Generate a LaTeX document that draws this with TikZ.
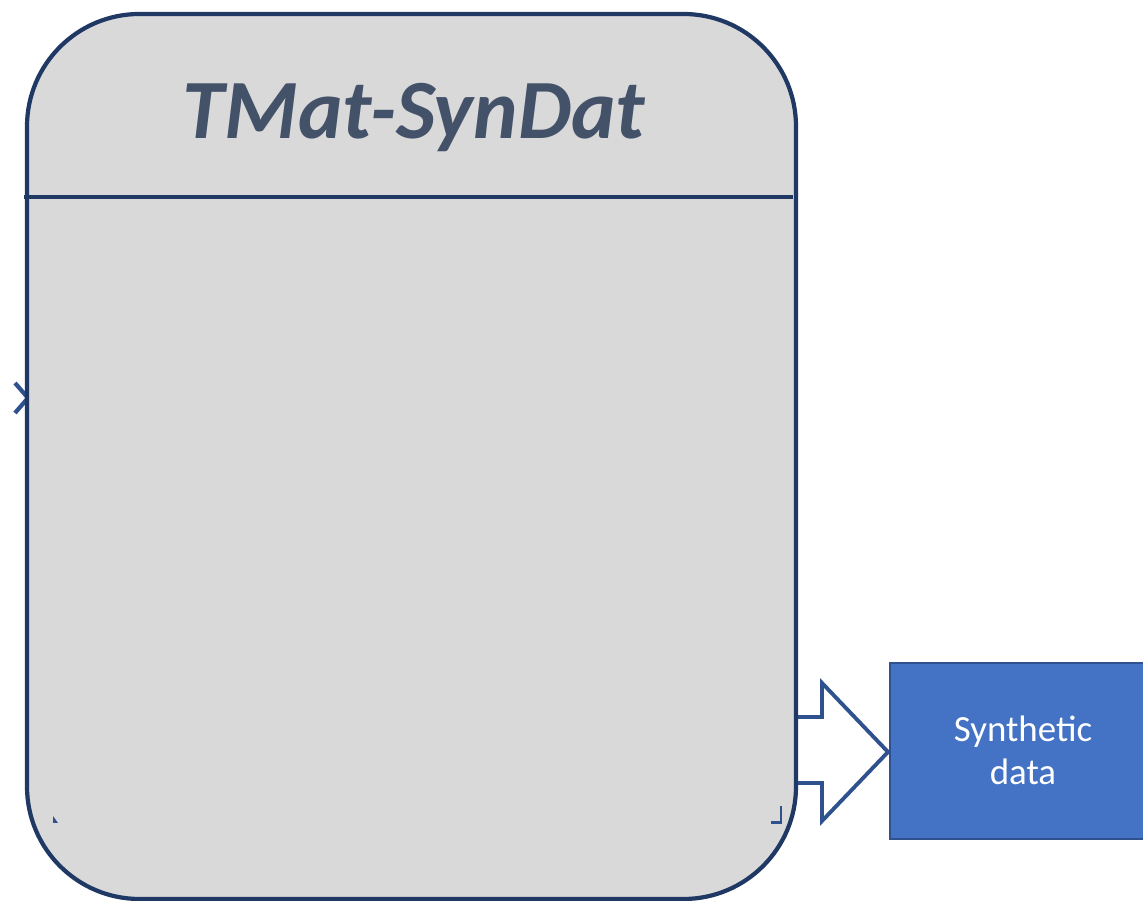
\documentclass[tikz,border=0pt]{standalone}
\usepackage{fontspec}
\setmainfont{Carlito}
\definecolor{boxfill}{RGB}{217,217,217}
\definecolor{boxline}{RGB}{31,56,100}
\definecolor{titlecol}{RGB}{67,81,105}
\definecolor{arrowline}{RGB}{47,82,143}
\definecolor{synfill}{RGB}{68,114,196}
\begin{document}
\begin{tikzpicture}[
  mainbox/.style={draw=boxline, fill=boxfill, line width=2.4pt, rounded corners=2.25cm},
  blockarrow/.style={draw=arrowline, fill=white, line width=2.2pt, line join=miter},
  synbox/.style={draw=arrowline, fill=synfill, line width=1pt},
  cornermark/.style={draw=arrowline, line width=1.4pt}
]
\useasboundingbox (0,0) rectangle (22.86,18.02);
\clip (0,0) rectangle (22.86,18.02);
% synthetic data box
\path[synbox] (17.80,1.24) rectangle (23.12,4.76);
\node[text=white, font=\fontsize{21}{24.5}\selectfont, align=center] (syn) at (20.46,3.01) {Synthetic\\data};
% block arrow
\coordinate (arrtip) at (17.76,2.98);
\path[blockarrow] (15.96,3.68) -- (16.44,3.68) -- (16.44,4.36) -- (arrtip) -- (16.44,1.60) -- (16.44,2.36) -- (15.96,2.36);
% left chevron
\draw[arrowline, line width=2.4pt] (0.30,10.36) -- (0.56,10.06) -- (0.30,9.76);
% main box
\path[mainbox] (0.54,0.04) rectangle (15.92,17.74);
\node (main) at (8.23,8.89) {};
\draw[boxline, line width=2.4pt] (0.48,14.08) -- (15.86,14.08);
\node[text=titlecol, font=\fontsize{48}{54}\selectfont\bfseries\itshape] (title) at (8.28,15.66) {TMat-SynDat};
% small marks
\fill[arrowline] (1.06,1.70) -- (1.06,1.56) -- (1.16,1.56) -- cycle;
\draw[cornermark] (15.42,1.57) -- (15.62,1.57) -- (15.62,1.90);
\end{tikzpicture}
\end{document}
